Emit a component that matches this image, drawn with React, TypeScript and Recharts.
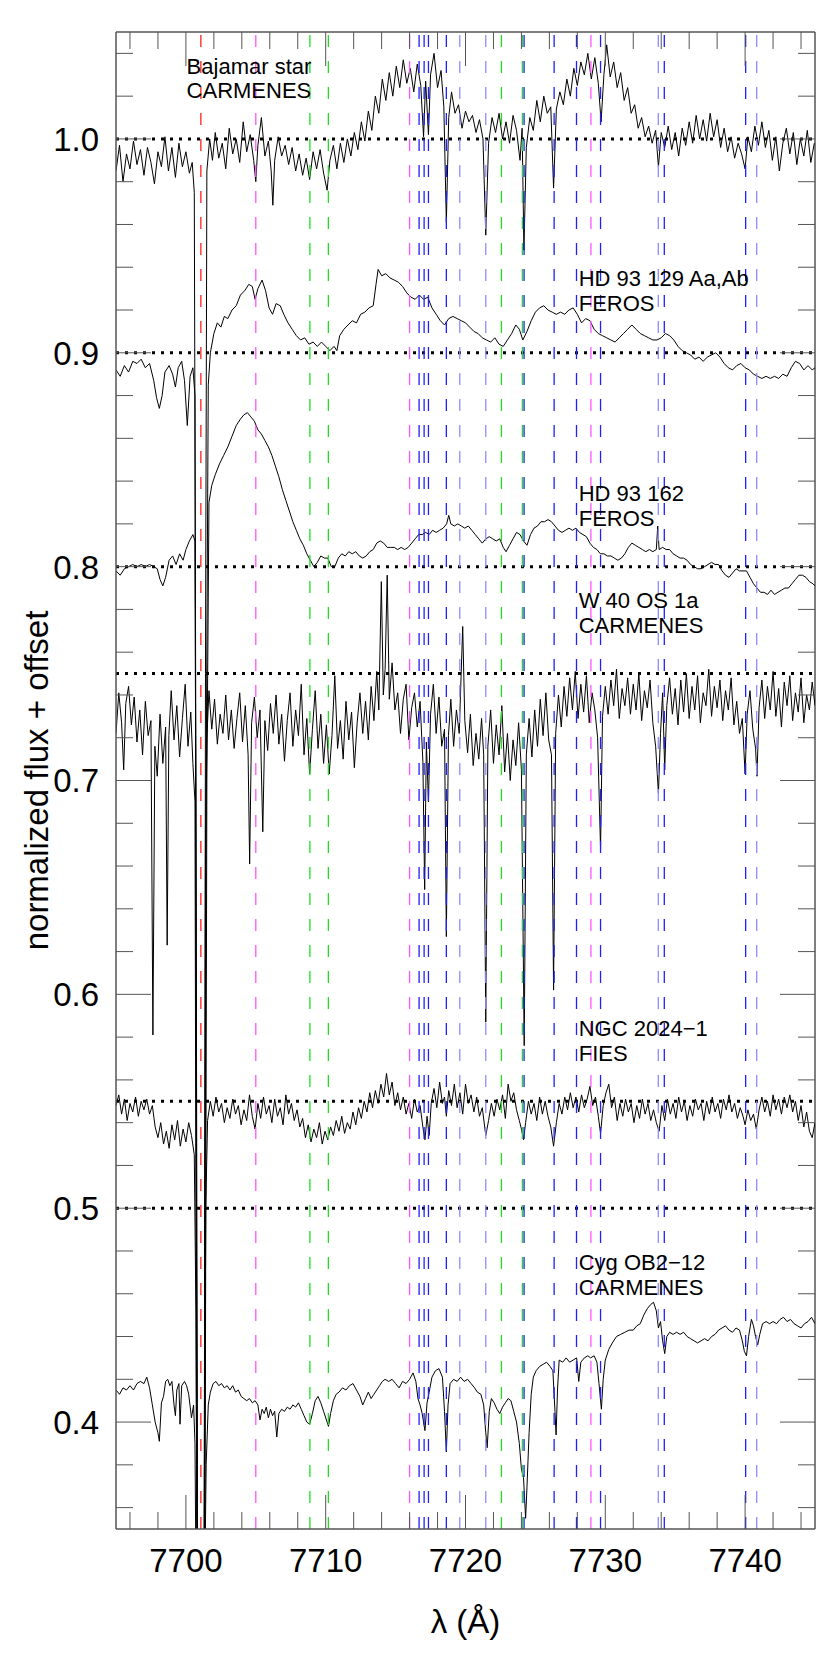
import { LineChart, Line, XAxis, YAxis, ReferenceLine, ReferenceDot } from "recharts";

// wavelength (Å), normalized flux + offset
const bajamar: [number, number][] = [
  [7695.0, 0.985], [7695.25, 0.997], [7695.5, 0.98], [7695.75, 0.993], [7696.0, 0.986], [7696.25, 0.999],
  [7696.5, 0.988], [7696.75, 0.995], [7697.0, 0.983], [7697.25, 0.996], [7697.5, 0.989], [7697.75, 0.979],
  [7698.0, 0.994], [7698.25, 0.987], [7698.5, 1.001], [7698.75, 0.985], [7699.0, 0.996], [7699.25, 0.982],
  [7699.5, 0.998], [7699.75, 0.987], [7700.0, 0.994], [7700.25, 0.984], [7700.45, 0.989], [7700.6, 0.975],
  [7700.72, 0.7], [7700.8, 0.3], [7701.3, 0.3], [7701.4, 0.75], [7701.5, 0.985], [7701.7, 1.0],
  [7701.9, 0.99], [7702.1, 1.003], [7702.35, 0.991], [7702.6, 0.998], [7702.85, 0.986], [7703.1, 1.005],
  [7703.35, 0.993], [7703.6, 1.0], [7703.85, 0.989], [7704.1, 1.008], [7704.35, 0.994], [7704.6, 1.002],
  [7704.85, 0.99], [7705.0, 0.98], [7705.15, 0.997], [7705.4, 1.01], [7705.65, 0.992], [7705.9, 0.999],
  [7706.1, 0.985], [7706.22, 0.969], [7706.35, 0.99], [7706.6, 1.001], [7706.85, 0.992], [7707.1, 0.997],
  [7707.35, 0.988], [7707.6, 0.996], [7707.85, 0.985], [7708.1, 0.993], [7708.35, 0.983], [7708.6, 0.991],
  [7708.85, 0.981], [7709.1, 0.994], [7709.35, 0.986], [7709.6, 0.995], [7709.85, 0.984], [7710.1, 0.976],
  [7710.3, 0.99], [7710.55, 0.997], [7710.8, 0.986], [7711.05, 0.998], [7711.3, 0.989], [7711.55, 1.0],
  [7711.8, 0.992], [7712.05, 1.003], [7712.3, 0.995], [7712.55, 1.008], [7712.8, 0.999], [7713.05, 1.013],
  [7713.3, 1.004], [7713.55, 1.02], [7713.8, 1.012], [7714.05, 1.028], [7714.3, 1.018], [7714.55, 1.031],
  [7714.8, 1.02], [7715.05, 1.034], [7715.3, 1.024], [7715.55, 1.037], [7715.8, 1.026], [7716.05, 1.033],
  [7716.3, 1.022], [7716.55, 1.035], [7716.8, 1.025], [7717.0, 1.001], [7717.15, 1.027], [7717.35, 1.002],
  [7717.5, 1.03], [7717.75, 1.04], [7718.0, 1.024], [7718.25, 1.032], [7718.45, 1.015], [7718.63, 0.961],
  [7718.8, 1.01], [7719.0, 1.022], [7719.25, 1.012], [7719.5, 1.016], [7719.75, 1.005], [7720.0, 1.013],
  [7720.25, 1.008], [7720.5, 1.011], [7720.75, 1.003], [7721.0, 1.009], [7721.25, 1.0], [7721.45, 0.955],
  [7721.65, 0.998], [7721.9, 1.01], [7722.15, 1.003], [7722.4, 1.012], [7722.65, 1.0], [7722.9, 1.008],
  [7723.15, 0.998], [7723.4, 1.011], [7723.65, 1.004], [7723.9, 0.99], [7724.05, 1.005], [7724.18, 0.948],
  [7724.35, 0.996], [7724.6, 1.01], [7724.85, 1.004], [7725.1, 1.018], [7725.35, 1.008], [7725.6, 1.02],
  [7725.85, 1.012], [7726.1, 1.015], [7726.3, 0.977], [7726.5, 1.014], [7726.75, 1.022], [7727.0, 1.016],
  [7727.25, 1.028], [7727.5, 1.02], [7727.75, 1.033], [7728.0, 1.025], [7728.25, 1.036], [7728.5, 1.03],
  [7728.75, 1.04], [7729.0, 1.028], [7729.25, 1.038], [7729.5, 1.026], [7729.7, 1.008], [7729.9, 1.03],
  [7730.1, 1.044], [7730.35, 1.029], [7730.6, 1.036], [7730.85, 1.024], [7731.1, 1.031], [7731.35, 1.018],
  [7731.6, 1.024], [7731.85, 1.012], [7732.1, 1.016], [7732.35, 1.005], [7732.6, 1.01], [7732.85, 1.001],
  [7733.1, 1.006], [7733.35, 0.998], [7733.6, 1.004], [7733.8, 0.987], [7734.0, 1.003], [7734.25, 0.996],
  [7734.5, 1.006], [7734.75, 0.995], [7735.0, 1.003], [7735.25, 0.992], [7735.5, 1.005], [7735.75, 0.997],
  [7736.0, 1.008], [7736.25, 0.998], [7736.5, 1.011], [7736.75, 1.0], [7737.0, 1.009], [7737.25, 0.999],
  [7737.5, 1.012], [7737.75, 1.001], [7738.0, 1.009], [7738.25, 0.996], [7738.5, 1.005], [7738.75, 0.994],
  [7739.0, 1.001], [7739.25, 0.991], [7739.5, 0.998], [7739.75, 0.993], [7740.0, 0.986], [7740.2, 1.001],
  [7740.45, 0.994], [7740.7, 1.006], [7740.95, 0.997], [7741.2, 1.008], [7741.45, 0.996], [7741.7, 1.004],
  [7741.95, 0.99], [7742.2, 1.001], [7742.45, 0.985], [7742.7, 0.998], [7742.95, 1.005], [7743.2, 0.993],
  [7743.45, 1.003], [7743.7, 0.988], [7743.95, 1.0], [7744.2, 0.992], [7744.45, 1.004], [7744.7, 0.989],
  [7744.95, 0.998],
];

const hd93129: [number, number][] = [
  [7695.0, 0.892], [7695.3, 0.889], [7695.6, 0.894], [7695.9, 0.891], [7696.2, 0.896], [7696.5, 0.895],
  [7696.8, 0.897], [7697.1, 0.893], [7697.4, 0.895], [7697.7, 0.887], [7697.9, 0.879], [7698.1, 0.874],
  [7698.3, 0.88], [7698.5, 0.891], [7698.8, 0.894], [7699.05, 0.89], [7699.25, 0.884], [7699.45, 0.893],
  [7699.7, 0.896], [7699.9, 0.887], [7700.1, 0.866], [7700.3, 0.889], [7700.5, 0.893], [7700.65, 0.88],
  [7700.75, 0.5], [7700.85, 0.3], [7701.3, 0.3], [7701.45, 0.7], [7701.6, 0.885], [7701.75, 0.9],
  [7702.0, 0.909], [7702.25, 0.914], [7702.5, 0.912], [7702.75, 0.917], [7703.0, 0.916], [7703.3, 0.92],
  [7703.6, 0.922], [7703.9, 0.927], [7704.2, 0.929], [7704.5, 0.932], [7704.75, 0.931], [7704.95, 0.925],
  [7705.15, 0.93], [7705.45, 0.934], [7705.7, 0.929], [7705.95, 0.921], [7706.2, 0.918], [7706.45, 0.923],
  [7706.75, 0.922], [7707.0, 0.918], [7707.3, 0.914], [7707.6, 0.911], [7707.9, 0.908], [7708.2, 0.906],
  [7708.5, 0.907], [7708.8, 0.904], [7709.1, 0.905], [7709.4, 0.903], [7709.7, 0.905], [7710.0, 0.903],
  [7710.3, 0.901], [7710.6, 0.903], [7710.8, 0.901], [7711.0, 0.908], [7711.3, 0.911], [7711.6, 0.913],
  [7711.9, 0.915], [7712.2, 0.914], [7712.5, 0.918], [7712.8, 0.919], [7713.1, 0.921], [7713.4, 0.922],
  [7713.6, 0.932], [7713.75, 0.939], [7714.0, 0.936], [7714.3, 0.937], [7714.6, 0.935], [7714.9, 0.934],
  [7715.2, 0.933], [7715.5, 0.931], [7715.8, 0.928], [7716.1, 0.926], [7716.4, 0.925], [7716.7, 0.927],
  [7717.0, 0.925], [7717.3, 0.926], [7717.6, 0.921], [7717.9, 0.918], [7718.2, 0.915], [7718.5, 0.913],
  [7718.8, 0.916], [7719.1, 0.917], [7719.4, 0.916], [7719.7, 0.915], [7720.0, 0.914], [7720.3, 0.912],
  [7720.6, 0.91], [7720.9, 0.909], [7721.2, 0.907], [7721.5, 0.906], [7721.8, 0.905], [7722.1, 0.907],
  [7722.4, 0.904], [7722.7, 0.903], [7723.0, 0.906], [7723.3, 0.909], [7723.6, 0.913], [7723.85, 0.911],
  [7724.1, 0.906], [7724.4, 0.91], [7724.7, 0.915], [7725.0, 0.919], [7725.3, 0.921], [7725.6, 0.922],
  [7725.9, 0.92], [7726.2, 0.919], [7726.5, 0.918], [7726.8, 0.919], [7727.1, 0.918], [7727.4, 0.92],
  [7727.7, 0.921], [7728.0, 0.918], [7728.3, 0.914], [7728.6, 0.916], [7728.9, 0.915], [7729.2, 0.911],
  [7729.5, 0.909], [7729.8, 0.908], [7730.1, 0.907], [7730.4, 0.906], [7730.7, 0.905], [7731.0, 0.907],
  [7731.3, 0.909], [7731.6, 0.911], [7731.9, 0.913], [7732.2, 0.911], [7732.5, 0.909], [7732.8, 0.908],
  [7733.1, 0.907], [7733.4, 0.906], [7733.7, 0.906], [7734.0, 0.907], [7734.3, 0.909], [7734.6, 0.908],
  [7734.9, 0.906], [7735.2, 0.903], [7735.5, 0.901], [7735.8, 0.9], [7736.1, 0.899], [7736.4, 0.897],
  [7736.7, 0.898], [7737.0, 0.896], [7737.3, 0.898], [7737.6, 0.899], [7737.9, 0.9], [7738.2, 0.898],
  [7738.5, 0.895], [7738.8, 0.893], [7739.1, 0.892], [7739.4, 0.894], [7739.7, 0.895], [7740.0, 0.893],
  [7740.3, 0.892], [7740.6, 0.89], [7740.9, 0.889], [7741.2, 0.888], [7741.5, 0.889], [7741.8, 0.888],
  [7742.1, 0.889], [7742.4, 0.888], [7742.7, 0.89], [7743.0, 0.889], [7743.3, 0.893], [7743.6, 0.896],
  [7743.9, 0.895], [7744.2, 0.892], [7744.5, 0.894], [7744.8, 0.892], [7745.0, 0.893],
];

const hd93162: [number, number][] = [
  [7695.0, 0.798], [7695.3, 0.796], [7695.6, 0.799], [7695.9, 0.8], [7696.2, 0.801], [7696.5, 0.8],
  [7696.8, 0.801], [7697.1, 0.8], [7697.4, 0.801], [7697.7, 0.8], [7697.95, 0.799], [7698.15, 0.794],
  [7698.35, 0.791], [7698.55, 0.795], [7698.8, 0.803], [7699.05, 0.805], [7699.3, 0.801], [7699.55, 0.806],
  [7699.8, 0.803], [7700.0, 0.808], [7700.25, 0.812], [7700.5, 0.815], [7700.65, 0.812], [7700.75, 0.6],
  [7700.85, 0.3], [7701.35, 0.3], [7701.5, 0.7], [7701.65, 0.83], [7701.85, 0.838], [7702.1, 0.843],
  [7702.4, 0.848], [7702.7, 0.852], [7703.0, 0.856], [7703.3, 0.861], [7703.6, 0.866], [7703.9, 0.869],
  [7704.15, 0.871], [7704.4, 0.872], [7704.65, 0.87], [7704.9, 0.868], [7705.15, 0.864], [7705.4, 0.862],
  [7705.65, 0.859], [7705.9, 0.856], [7706.15, 0.852], [7706.4, 0.847], [7706.65, 0.842], [7706.9, 0.836],
  [7707.15, 0.831], [7707.4, 0.826], [7707.65, 0.821], [7707.9, 0.817], [7708.15, 0.813], [7708.4, 0.81],
  [7708.65, 0.806], [7708.9, 0.803], [7709.15, 0.8], [7709.4, 0.802], [7709.65, 0.805], [7709.9, 0.804],
  [7710.15, 0.804], [7710.4, 0.8], [7710.65, 0.8], [7710.9, 0.804], [7711.15, 0.806], [7711.4, 0.805],
  [7711.65, 0.807], [7711.9, 0.806], [7712.15, 0.807], [7712.4, 0.805], [7712.65, 0.804], [7712.9, 0.805],
  [7713.15, 0.807], [7713.4, 0.808], [7713.65, 0.811], [7713.9, 0.812], [7714.15, 0.811], [7714.4, 0.809],
  [7714.65, 0.809], [7714.9, 0.809], [7715.15, 0.808], [7715.4, 0.809], [7715.65, 0.808], [7715.9, 0.809],
  [7716.15, 0.811], [7716.4, 0.813], [7716.65, 0.815], [7716.9, 0.815], [7717.15, 0.816], [7717.4, 0.815],
  [7717.65, 0.817], [7717.9, 0.816], [7718.15, 0.817], [7718.4, 0.818], [7718.65, 0.82], [7718.8, 0.824],
  [7718.95, 0.82], [7719.2, 0.819], [7719.45, 0.82], [7719.7, 0.819], [7719.95, 0.818], [7720.2, 0.819],
  [7720.45, 0.817], [7720.7, 0.815], [7720.95, 0.813], [7721.2, 0.811], [7721.45, 0.813], [7721.7, 0.814],
  [7721.95, 0.813], [7722.2, 0.812], [7722.45, 0.813], [7722.7, 0.809], [7722.9, 0.807], [7723.15, 0.81],
  [7723.4, 0.813], [7723.65, 0.816], [7723.9, 0.815], [7724.15, 0.812], [7724.4, 0.81], [7724.65, 0.815],
  [7724.9, 0.818], [7725.15, 0.819], [7725.4, 0.821], [7725.65, 0.821], [7725.9, 0.822], [7726.15, 0.821],
  [7726.4, 0.819], [7726.65, 0.817], [7726.9, 0.816], [7727.15, 0.817], [7727.4, 0.818], [7727.65, 0.817],
  [7727.9, 0.818], [7728.15, 0.816], [7728.4, 0.815], [7728.65, 0.814], [7728.9, 0.811], [7729.15, 0.809],
  [7729.4, 0.808], [7729.65, 0.806], [7729.9, 0.806], [7730.15, 0.805], [7730.4, 0.805], [7730.65, 0.804],
  [7730.9, 0.803], [7731.15, 0.804], [7731.4, 0.806], [7731.65, 0.809], [7731.9, 0.811], [7732.15, 0.81],
  [7732.4, 0.809], [7732.65, 0.808], [7732.9, 0.807], [7733.15, 0.808], [7733.4, 0.807], [7733.65, 0.808],
  [7733.75, 0.819], [7733.85, 0.808], [7734.1, 0.809], [7734.35, 0.808], [7734.6, 0.808], [7734.85, 0.806],
  [7735.1, 0.805], [7735.35, 0.804], [7735.6, 0.804], [7735.85, 0.803], [7736.1, 0.801], [7736.35, 0.8],
  [7736.6, 0.799], [7736.85, 0.799], [7737.1, 0.8], [7737.35, 0.801], [7737.6, 0.802], [7737.85, 0.801],
  [7738.1, 0.801], [7738.35, 0.798], [7738.6, 0.796], [7738.85, 0.795], [7739.1, 0.797], [7739.35, 0.799],
  [7739.6, 0.798], [7739.85, 0.798], [7740.1, 0.798], [7740.35, 0.795], [7740.6, 0.792], [7740.85, 0.79],
  [7741.1, 0.788], [7741.35, 0.788], [7741.6, 0.787], [7741.85, 0.789], [7742.1, 0.787], [7742.35, 0.788],
  [7742.6, 0.789], [7742.85, 0.79], [7743.1, 0.79], [7743.35, 0.792], [7743.6, 0.794], [7743.85, 0.796],
  [7744.1, 0.796], [7744.35, 0.795], [7744.6, 0.793], [7744.85, 0.792], [7745.0, 0.791],
];

const w40: [number, number][] = [
  [7695.0, 0.722], [7695.2, 0.741], [7695.4, 0.727], [7695.55, 0.705], [7695.7, 0.736], [7695.9, 0.744],
  [7696.1, 0.726], [7696.3, 0.739], [7696.5, 0.718], [7696.7, 0.733], [7696.9, 0.712], [7697.1, 0.737],
  [7697.3, 0.721], [7697.5, 0.728], [7697.64, 0.581], [7697.78, 0.716], [7697.95, 0.702], [7698.15, 0.731],
  [7698.35, 0.708], [7698.55, 0.725], [7698.66, 0.623], [7698.78, 0.721], [7698.95, 0.742], [7699.15, 0.719],
  [7699.35, 0.735], [7699.55, 0.711], [7699.75, 0.729], [7699.95, 0.745], [7700.15, 0.716], [7700.35, 0.732],
  [7700.5, 0.708], [7700.65, 0.69], [7700.75, 0.4], [7700.85, 0.3], [7701.3, 0.3], [7701.4, 0.669],
  [7701.5, 0.72], [7701.65, 0.742], [7701.85, 0.724], [7702.05, 0.738], [7702.25, 0.717], [7702.45, 0.731],
  [7702.65, 0.722], [7702.85, 0.74], [7703.05, 0.719], [7703.25, 0.733], [7703.45, 0.715], [7703.65, 0.729],
  [7703.85, 0.741], [7704.05, 0.718], [7704.25, 0.735], [7704.45, 0.712], [7704.56, 0.661], [7704.7, 0.727],
  [7704.9, 0.739], [7705.1, 0.72], [7705.3, 0.733], [7705.5, 0.676], [7705.65, 0.728], [7705.85, 0.714],
  [7706.05, 0.736], [7706.25, 0.722], [7706.45, 0.74], [7706.65, 0.717], [7706.85, 0.731], [7707.05, 0.709],
  [7707.25, 0.728], [7707.45, 0.741], [7707.65, 0.716], [7707.85, 0.733], [7708.05, 0.721], [7708.25, 0.745],
  [7708.45, 0.712], [7708.65, 0.729], [7708.85, 0.703], [7709.05, 0.724], [7709.25, 0.742], [7709.45, 0.715],
  [7709.65, 0.731], [7709.85, 0.708], [7710.05, 0.726], [7710.25, 0.703], [7710.45, 0.721], [7710.65, 0.749],
  [7710.85, 0.715], [7711.05, 0.728], [7711.25, 0.71], [7711.45, 0.737], [7711.65, 0.719], [7711.85, 0.732],
  [7712.05, 0.706], [7712.25, 0.727], [7712.45, 0.741], [7712.65, 0.722], [7712.85, 0.737], [7713.05, 0.719],
  [7713.25, 0.744], [7713.45, 0.728], [7713.65, 0.751], [7713.8, 0.733], [7713.98, 0.793], [7714.12, 0.74],
  [7714.25, 0.752], [7714.4, 0.796], [7714.55, 0.738], [7714.75, 0.755], [7714.95, 0.733], [7715.15, 0.741],
  [7715.35, 0.722], [7715.55, 0.738], [7715.75, 0.745], [7715.95, 0.719], [7716.15, 0.734], [7716.35, 0.741],
  [7716.55, 0.725], [7716.75, 0.737], [7716.95, 0.709], [7717.08, 0.649], [7717.2, 0.718], [7717.35, 0.69],
  [7717.5, 0.731], [7717.7, 0.745], [7717.9, 0.722], [7718.1, 0.739], [7718.3, 0.716], [7718.5, 0.724],
  [7718.63, 0.627], [7718.78, 0.721], [7718.95, 0.738], [7719.15, 0.716], [7719.35, 0.733], [7719.55, 0.722],
  [7719.8, 0.772], [7719.95, 0.728], [7720.15, 0.713], [7720.35, 0.731], [7720.55, 0.707], [7720.75, 0.722],
  [7720.95, 0.71], [7721.15, 0.729], [7721.3, 0.712], [7721.45, 0.587], [7721.6, 0.716], [7721.8, 0.733],
  [7722.0, 0.708], [7722.2, 0.726], [7722.4, 0.712], [7722.6, 0.735], [7722.8, 0.704], [7723.0, 0.722],
  [7723.2, 0.7], [7723.4, 0.719], [7723.6, 0.707], [7723.8, 0.727], [7724.0, 0.705], [7724.2, 0.576],
  [7724.35, 0.712], [7724.55, 0.729], [7724.75, 0.711], [7724.95, 0.733], [7725.15, 0.716], [7725.35, 0.738],
  [7725.55, 0.721], [7725.75, 0.741], [7725.95, 0.719], [7726.15, 0.712], [7726.3, 0.602], [7726.45, 0.722],
  [7726.65, 0.74], [7726.85, 0.725], [7727.05, 0.744], [7727.25, 0.73], [7727.45, 0.748], [7727.65, 0.733],
  [7727.85, 0.751], [7728.05, 0.729], [7728.25, 0.745], [7728.45, 0.732], [7728.65, 0.749], [7728.85, 0.727],
  [7729.05, 0.741], [7729.25, 0.733], [7729.45, 0.72], [7729.66, 0.668], [7729.8, 0.73], [7730.0, 0.744],
  [7730.2, 0.731], [7730.4, 0.747], [7730.6, 0.735], [7730.8, 0.752], [7731.0, 0.729], [7731.2, 0.743],
  [7731.4, 0.735], [7731.6, 0.748], [7731.8, 0.731], [7732.0, 0.745], [7732.2, 0.733], [7732.4, 0.75],
  [7732.6, 0.728], [7732.8, 0.742], [7733.0, 0.734], [7733.2, 0.747], [7733.4, 0.727], [7733.6, 0.716],
  [7733.8, 0.694], [7733.95, 0.722], [7734.1, 0.741], [7734.25, 0.705], [7734.4, 0.735], [7734.6, 0.748],
  [7734.8, 0.731], [7735.0, 0.743], [7735.2, 0.726], [7735.4, 0.747], [7735.6, 0.732], [7735.8, 0.75],
  [7736.0, 0.729], [7736.2, 0.744], [7736.4, 0.733], [7736.6, 0.749], [7736.8, 0.727], [7737.0, 0.741],
  [7737.2, 0.735], [7737.4, 0.752], [7737.6, 0.73], [7737.8, 0.744], [7738.0, 0.734], [7738.2, 0.747],
  [7738.4, 0.728], [7738.6, 0.742], [7738.8, 0.733], [7739.0, 0.748], [7739.2, 0.726], [7739.4, 0.737],
  [7739.6, 0.722], [7739.8, 0.729], [7740.0, 0.703], [7740.15, 0.731], [7740.35, 0.742], [7740.55, 0.724],
  [7740.75, 0.715], [7740.85, 0.702], [7741.0, 0.734], [7741.2, 0.747], [7741.4, 0.729], [7741.6, 0.744],
  [7741.8, 0.733], [7742.0, 0.751], [7742.2, 0.73], [7742.4, 0.743], [7742.6, 0.725], [7742.8, 0.746],
  [7743.0, 0.735], [7743.2, 0.749], [7743.4, 0.728], [7743.6, 0.741], [7743.8, 0.732], [7744.0, 0.748],
  [7744.2, 0.727], [7744.4, 0.74], [7744.6, 0.733], [7744.8, 0.746], [7745.0, 0.735],
];

const ngc2024: [number, number][] = [
  [7695.0, 0.548], [7695.2, 0.553], [7695.4, 0.544], [7695.6, 0.551], [7695.8, 0.541], [7696.0, 0.549],
  [7696.2, 0.545], [7696.4, 0.552], [7696.6, 0.543], [7696.8, 0.55], [7697.0, 0.546], [7697.2, 0.551],
  [7697.4, 0.544], [7697.6, 0.548], [7697.8, 0.538], [7698.0, 0.533], [7698.2, 0.54], [7698.4, 0.53],
  [7698.6, 0.536], [7698.8, 0.528], [7699.0, 0.539], [7699.2, 0.532], [7699.4, 0.541], [7699.6, 0.529],
  [7699.8, 0.537], [7700.0, 0.531], [7700.2, 0.54], [7700.4, 0.534], [7700.6, 0.525], [7700.72, 0.45],
  [7700.82, 0.3], [7701.3, 0.3], [7701.42, 0.5], [7701.55, 0.541], [7701.75, 0.55], [7701.95, 0.543],
  [7702.15, 0.552], [7702.35, 0.545], [7702.55, 0.549], [7702.75, 0.54], [7702.95, 0.547], [7703.15, 0.542],
  [7703.35, 0.551], [7703.55, 0.544], [7703.75, 0.548], [7703.95, 0.539], [7704.15, 0.546], [7704.35, 0.541],
  [7704.55, 0.553], [7704.75, 0.543], [7704.95, 0.537], [7705.15, 0.549], [7705.35, 0.542], [7705.55, 0.552],
  [7705.75, 0.544], [7705.95, 0.548], [7706.15, 0.54], [7706.35, 0.551], [7706.55, 0.543], [7706.75, 0.547],
  [7706.95, 0.539], [7707.15, 0.553], [7707.35, 0.544], [7707.55, 0.549], [7707.75, 0.541], [7707.95, 0.546],
  [7708.15, 0.538], [7708.35, 0.542], [7708.55, 0.533], [7708.75, 0.539], [7708.95, 0.531], [7709.15, 0.537],
  [7709.35, 0.533], [7709.55, 0.54], [7709.75, 0.53], [7709.95, 0.536], [7710.15, 0.532], [7710.35, 0.538],
  [7710.55, 0.534], [7710.75, 0.541], [7710.95, 0.536], [7711.15, 0.543], [7711.35, 0.535], [7711.55, 0.54],
  [7711.75, 0.537], [7711.95, 0.545], [7712.15, 0.539], [7712.35, 0.547], [7712.55, 0.542], [7712.75, 0.55],
  [7712.95, 0.545], [7713.15, 0.554], [7713.35, 0.547], [7713.55, 0.555], [7713.75, 0.549], [7713.95, 0.558],
  [7714.15, 0.552], [7714.35, 0.563], [7714.55, 0.553], [7714.75, 0.559], [7714.95, 0.548], [7715.15, 0.554],
  [7715.35, 0.546], [7715.55, 0.552], [7715.75, 0.544], [7715.95, 0.549], [7716.15, 0.542], [7716.35, 0.551],
  [7716.55, 0.545], [7716.75, 0.548], [7716.95, 0.538], [7717.1, 0.532], [7717.25, 0.543], [7717.4, 0.534],
  [7717.55, 0.549], [7717.75, 0.556], [7717.95, 0.547], [7718.15, 0.559], [7718.35, 0.549], [7718.5, 0.552],
  [7718.63, 0.543], [7718.8, 0.555], [7719.0, 0.548], [7719.2, 0.558], [7719.4, 0.547], [7719.6, 0.554],
  [7719.8, 0.544], [7720.0, 0.558], [7720.2, 0.549], [7720.4, 0.553], [7720.6, 0.545], [7720.8, 0.552],
  [7721.0, 0.543], [7721.2, 0.547], [7721.45, 0.534], [7721.65, 0.541], [7721.85, 0.549], [7722.05, 0.543],
  [7722.25, 0.551], [7722.45, 0.546], [7722.65, 0.553], [7722.85, 0.542], [7723.05, 0.558], [7723.25, 0.55],
  [7723.45, 0.554], [7723.65, 0.546], [7723.85, 0.541], [7724.0, 0.537], [7724.15, 0.532], [7724.3, 0.54],
  [7724.5, 0.55], [7724.7, 0.544], [7724.9, 0.549], [7725.1, 0.541], [7725.3, 0.552], [7725.5, 0.544],
  [7725.7, 0.55], [7725.9, 0.543], [7726.1, 0.538], [7726.3, 0.529], [7726.5, 0.54], [7726.7, 0.549],
  [7726.9, 0.544], [7727.1, 0.552], [7727.3, 0.546], [7727.5, 0.554], [7727.7, 0.547], [7727.9, 0.552],
  [7728.1, 0.545], [7728.3, 0.553], [7728.5, 0.547], [7728.7, 0.551], [7728.9, 0.557], [7729.1, 0.548],
  [7729.3, 0.552], [7729.5, 0.543], [7729.66, 0.535], [7729.85, 0.548], [7730.05, 0.554], [7730.25, 0.558],
  [7730.45, 0.547], [7730.65, 0.552], [7730.85, 0.541], [7731.05, 0.549], [7731.25, 0.543], [7731.45, 0.551],
  [7731.65, 0.545], [7731.85, 0.549], [7732.05, 0.54], [7732.25, 0.548], [7732.45, 0.542], [7732.65, 0.551],
  [7732.85, 0.544], [7733.05, 0.549], [7733.25, 0.541], [7733.45, 0.546], [7733.65, 0.54], [7733.85, 0.536],
  [7734.05, 0.548], [7734.25, 0.541], [7734.45, 0.551], [7734.65, 0.544], [7734.85, 0.549], [7735.05, 0.542],
  [7735.25, 0.552], [7735.45, 0.545], [7735.65, 0.55], [7735.85, 0.541], [7736.05, 0.548], [7736.25, 0.543],
  [7736.45, 0.551], [7736.65, 0.546], [7736.85, 0.549], [7737.05, 0.541], [7737.25, 0.55], [7737.45, 0.544],
  [7737.65, 0.552], [7737.85, 0.545], [7738.05, 0.549], [7738.25, 0.542], [7738.45, 0.551], [7738.65, 0.546],
  [7738.85, 0.553], [7739.05, 0.545], [7739.25, 0.549], [7739.45, 0.542], [7739.65, 0.547], [7739.85, 0.543],
  [7740.0, 0.539], [7740.2, 0.546], [7740.4, 0.541], [7740.6, 0.544], [7740.8, 0.537], [7741.0, 0.546],
  [7741.2, 0.552], [7741.4, 0.545], [7741.6, 0.55], [7741.8, 0.543], [7742.0, 0.553], [7742.2, 0.546],
  [7742.4, 0.551], [7742.6, 0.544], [7742.8, 0.552], [7743.0, 0.547], [7743.2, 0.553], [7743.4, 0.545],
  [7743.6, 0.55], [7743.8, 0.541], [7744.0, 0.548], [7744.2, 0.538], [7744.4, 0.545], [7744.6, 0.536],
  [7744.8, 0.533], [7745.0, 0.54],
];

const cygOb2: [number, number][] = [
  [7695.0, 0.415], [7695.25, 0.413], [7695.5, 0.416], [7695.75, 0.415], [7696.0, 0.417], [7696.25, 0.415],
  [7696.5, 0.418], [7696.75, 0.419], [7697.0, 0.418], [7697.2, 0.421], [7697.4, 0.416], [7697.6, 0.408],
  [7697.8, 0.4], [7698.0, 0.395], [7698.1, 0.391], [7698.25, 0.409], [7698.4, 0.412], [7698.55, 0.419],
  [7698.7, 0.42], [7698.85, 0.417], [7699.0, 0.419], [7699.15, 0.408], [7699.25, 0.403], [7699.35, 0.415],
  [7699.5, 0.418], [7699.58, 0.399], [7699.7, 0.417], [7699.9, 0.419], [7700.05, 0.417], [7700.2, 0.413],
  [7700.4, 0.402], [7700.55, 0.408], [7700.65, 0.39], [7700.75, 0.3], [7701.3, 0.3], [7701.45, 0.38],
  [7701.6, 0.408], [7701.75, 0.414], [7701.95, 0.418], [7702.15, 0.419], [7702.35, 0.417], [7702.55, 0.418],
  [7702.75, 0.416], [7702.95, 0.417], [7703.15, 0.415], [7703.35, 0.417], [7703.55, 0.414], [7703.75, 0.415],
  [7703.95, 0.412], [7704.15, 0.411], [7704.35, 0.41], [7704.55, 0.411], [7704.75, 0.409], [7704.95, 0.41],
  [7705.15, 0.408], [7705.3, 0.401], [7705.45, 0.406], [7705.6, 0.404], [7705.75, 0.407], [7705.9, 0.402],
  [7706.05, 0.406], [7706.2, 0.403], [7706.35, 0.405], [7706.5, 0.393], [7706.65, 0.404], [7706.85, 0.406],
  [7707.05, 0.405], [7707.25, 0.407], [7707.45, 0.406], [7707.65, 0.408], [7707.85, 0.407], [7708.05, 0.409],
  [7708.25, 0.406], [7708.45, 0.403], [7708.65, 0.4], [7708.85, 0.399], [7709.05, 0.404], [7709.25, 0.41],
  [7709.45, 0.412], [7709.65, 0.409], [7709.85, 0.405], [7710.05, 0.401], [7710.2, 0.398], [7710.35, 0.404],
  [7710.55, 0.41], [7710.75, 0.413], [7710.95, 0.414], [7711.2, 0.416], [7711.45, 0.415], [7711.7, 0.417],
  [7711.95, 0.418], [7712.2, 0.415], [7712.45, 0.412], [7712.65, 0.408], [7712.85, 0.411], [7713.05, 0.414],
  [7713.25, 0.411], [7713.45, 0.413], [7713.65, 0.415], [7713.85, 0.417], [7714.05, 0.419], [7714.25, 0.42],
  [7714.5, 0.419], [7714.75, 0.42], [7715.0, 0.418], [7715.25, 0.416], [7715.5, 0.419], [7715.75, 0.418],
  [7716.0, 0.42], [7716.25, 0.423], [7716.45, 0.419], [7716.6, 0.411], [7716.75, 0.408], [7716.9, 0.404],
  [7717.1, 0.396], [7717.25, 0.409], [7717.4, 0.414], [7717.6, 0.421], [7717.85, 0.424], [7718.1, 0.425],
  [7718.35, 0.421], [7718.5, 0.405], [7718.63, 0.386], [7718.75, 0.408], [7718.9, 0.418], [7719.15, 0.42],
  [7719.4, 0.419], [7719.65, 0.421], [7719.9, 0.419], [7720.15, 0.42], [7720.4, 0.418], [7720.65, 0.416],
  [7720.85, 0.414], [7721.1, 0.413], [7721.3, 0.408], [7721.45, 0.395], [7721.55, 0.388], [7721.7, 0.405],
  [7721.85, 0.411], [7722.05, 0.409], [7722.25, 0.406], [7722.45, 0.404], [7722.65, 0.407], [7722.85, 0.409],
  [7723.05, 0.411], [7723.25, 0.41], [7723.45, 0.405], [7723.65, 0.4], [7723.85, 0.39], [7724.0, 0.378],
  [7724.15, 0.374], [7724.3, 0.355], [7724.4, 0.37], [7724.55, 0.395], [7724.7, 0.413], [7724.85, 0.421],
  [7725.05, 0.424], [7725.3, 0.426], [7725.55, 0.427], [7725.8, 0.428], [7726.05, 0.426], [7726.25, 0.424],
  [7726.4, 0.405], [7726.48, 0.394], [7726.58, 0.415], [7726.7, 0.429], [7726.95, 0.428], [7727.2, 0.43],
  [7727.45, 0.428], [7727.7, 0.429], [7727.95, 0.43], [7728.1, 0.419], [7728.25, 0.428], [7728.5, 0.43],
  [7728.75, 0.431], [7728.95, 0.43], [7729.2, 0.431], [7729.4, 0.428], [7729.55, 0.418], [7729.72, 0.406],
  [7729.85, 0.42], [7730.0, 0.429], [7730.25, 0.434], [7730.5, 0.437], [7730.8, 0.44], [7731.1, 0.441],
  [7731.4, 0.442], [7731.7, 0.443], [7732.0, 0.443], [7732.25, 0.445], [7732.5, 0.446], [7732.75, 0.45],
  [7733.0, 0.453], [7733.25, 0.455], [7733.45, 0.456], [7733.65, 0.452], [7733.8, 0.444], [7733.95, 0.447],
  [7734.1, 0.438], [7734.25, 0.432], [7734.4, 0.44], [7734.6, 0.442], [7734.85, 0.441], [7735.1, 0.442],
  [7735.35, 0.441], [7735.6, 0.442], [7735.85, 0.44], [7736.1, 0.439], [7736.35, 0.438], [7736.6, 0.437],
  [7736.85, 0.438], [7737.1, 0.439], [7737.35, 0.438], [7737.6, 0.44], [7737.85, 0.441], [7738.1, 0.443],
  [7738.35, 0.444], [7738.6, 0.445], [7738.85, 0.443], [7739.1, 0.442], [7739.35, 0.444], [7739.6, 0.443],
  [7739.8, 0.438], [7739.95, 0.433], [7740.1, 0.431], [7740.25, 0.44], [7740.45, 0.448], [7740.6, 0.445],
  [7740.75, 0.44], [7740.9, 0.436], [7741.05, 0.441], [7741.25, 0.446], [7741.5, 0.447], [7741.75, 0.446],
  [7742.0, 0.447], [7742.25, 0.446], [7742.5, 0.448], [7742.75, 0.449], [7743.0, 0.447], [7743.25, 0.448],
  [7743.5, 0.446], [7743.75, 0.445], [7744.0, 0.444], [7744.25, 0.446], [7744.5, 0.447], [7744.75, 0.449],
  [7745.0, 0.446],
];

const spectra = [bajamar, hd93129, hd93162, w40, ngc2024, cygOb2];

// continuum levels (dotted)
const continuumLevels = [1.0, 0.9, 0.8, 0.75, 0.55, 0.5];

// line identifications (Å)
const redLines = [7701.07];
const magentaLines = [7705.0, 7716.0, 7728.97];
const greenLines = [7708.87, 7710.19, 7722.57, 7724.07];
const blueLines = [7716.68, 7717.04, 7717.35, 7718.63, 7724.19, 7726.34, 7727.94, 7729.66, 7734.22, 7740.04];
const paleBlueLines = [7719.59, 7721.45, 7733.79, 7740.83];

const starNames = ["Bajamar star", "HD 93 129 Aa,Ab", "HD 93 162", "W 40 OS 1a", "NGC 2024\u22121", "Cyg OB2\u221212"];
const instruments = ["CARMENES", "FEROS", "FEROS", "CARMENES", "FIES", "CARMENES"];

const xTicks = [7696, 7698, 7700, 7702, 7704, 7706, 7708, 7710, 7712, 7714, 7716, 7718, 7720, 7722, 7724, 7726, 7728, 7730, 7732, 7734, 7736, 7738, 7740, 7742, 7744];
const yTicks = [0.36, 0.38, 0.4, 0.42, 0.44, 0.46, 0.48, 0.5, 0.52, 0.54, 0.56, 0.58, 0.6, 0.62, 0.64, 0.66, 0.68, 0.7, 0.72, 0.74, 0.76, 0.78, 0.8, 0.82, 0.84, 0.86, 0.88, 0.9, 0.92, 0.94, 0.96, 0.98, 1.0, 1.02, 1.04];

const W = 830;
const H = 1663;
const TOP = 32;
const LEFT = 116;
const RIGHT = 15;
const BOTTOM = 134;
const FONT = "'Liberation Sans', Arial, Helvetica, sans-serif";
const AXIS = "#555";

// label anchors in data units (left edge, baseline of first line)
const labelPos: [number, number][] = [
  [7700.05, 1.0305], [7728.1, 0.931], [7728.1, 0.8305], [7728.1, 0.7805], [7728.1, 0.5805], [7728.1, 0.471],
];

const XTick = (props: any) => {
  const { x, y, payload } = props;
  const v = payload.value as number;
  const major = v % 10 === 0;
  const len = major ? 34 : 17;
  return (
    <g>
      <line x1={x} x2={x} y1={y} y2={y - len} stroke={AXIS} strokeWidth={1} />
      <line x1={x} x2={x} y1={TOP} y2={TOP + len} stroke={AXIS} strokeWidth={1} />
      {major && (
        <text x={x} y={y + 43} textAnchor="middle" fontSize={33} fontFamily={FONT} fill="#000">
          {v}
        </text>
      )}
    </g>
  );
};

const YTick = (props: any) => {
  const { x, y, payload } = props;
  const v = payload.value as number;
  const major = Math.round(v * 100) % 10 === 0;
  const len = major ? 35 : 17;
  const right = W - RIGHT;
  return (
    <g>
      <line x1={x} x2={x + len} y1={y} y2={y} stroke={AXIS} strokeWidth={1} />
      <line x1={right} x2={right - len} y1={y} y2={y} stroke={AXIS} strokeWidth={1} />
      {major && (
        <text x={x - 17} y={y} dy="0.36em" textAnchor="end" fontSize={33} fontFamily={FONT} fill="#000">
          {v.toFixed(1)}
        </text>
      )}
    </g>
  );
};

const StarLabel = (i: number) => (props: any) => {
  const { cx, cy } = props;
  return (
    <g>
      <text x={cx} y={cy} fontSize={22} fontFamily={FONT} fill="#000">
        {starNames[i]}
      </text>
      <text x={cx} y={cy + 24.5} fontSize={22} fontFamily={FONT} fill="#000">
        {instruments[i]}
      </text>
    </g>
  );
};

const dashed = (xs: number[], color: string, key: string) =>
  xs.map((v) => (
    <ReferenceLine key={key + v} x={v} stroke={color} strokeWidth={1.3} strokeDasharray="12 14" ifOverflow="visible" />
  ));

export default function App() {
  return (
    <div style={{ position: "absolute", left: 0, top: 0, width: W, height: H, background: "#fff" }}>
      <LineChart width={W} height={H} margin={{ top: TOP, right: RIGHT, bottom: 0, left: 0 }}>
        <XAxis
          type="number"
          dataKey="0"
          domain={[7695, 7745]}
          allowDataOverflow
          ticks={xTicks}
          interval={0}
          tickSize={0}
          tickMargin={0}
          tickLine={false}
          tick={XTick}
          height={BOTTOM}
          axisLine={{ stroke: AXIS, strokeWidth: 1.5 }}
          label={(p: any) => {
            const vb = p.viewBox || {};
            return (
              <text x={vb.x + vb.width / 2} y={vb.y + 104} textAnchor="middle" fontSize={33} fontFamily={FONT} fill="#000">
                {"\u03bb (\u00c5)"}
              </text>
            );
          }}
        />
        <YAxis
          type="number"
          dataKey="1"
          domain={[0.35, 1.05]}
          allowDataOverflow
          ticks={yTicks}
          interval={0}
          tickSize={0}
          tickMargin={0}
          tickLine={false}
          tick={YTick}
          width={LEFT}
          axisLine={{ stroke: AXIS, strokeWidth: 1.5 }}
          label={(p: any) => {
            const vb = p.viewBox || {};
            const cx = 36;
            const cy = vb.y + vb.height / 2;
            return (
              <text x={cx} y={cy} transform={`rotate(-90 ${cx} ${cy})`} textAnchor="middle" dominantBaseline="central" fontSize={33} fontFamily={FONT} fill="#000">
                normalized flux + offset
              </text>
            );
          }}
        />
        <ReferenceLine y={1.05} stroke={AXIS} strokeWidth={1.5} ifOverflow="visible" />
        <ReferenceLine x={7745} stroke={AXIS} strokeWidth={1.5} ifOverflow="visible" />
        {spectra.map((s, i) => (
          <Line
            key={i}
            data={s}
            dataKey="1"
            type="linear"
            stroke="#000"
            strokeWidth={1}
            dot={false}
            isAnimationActive={false}
          />
        ))}
        {continuumLevels.map((v) => (
          <ReferenceLine key={"c" + v} y={v} stroke="#000" strokeWidth={3} strokeDasharray="3 6" />
        ))}
        {dashed(redLines, "#ff2020", "r")}
        {dashed(magentaLines, "#ff55ff", "m")}
        {dashed(greenLines, "#22dd22", "g")}
        {dashed(blueLines, "#2020ff", "b")}
        {dashed(paleBlueLines, "#8c8cff", "pb")}
        {labelPos.map((p, i) => (
          <ReferenceDot key={"l" + i} x={p[0]} y={p[1]} r={0} ifOverflow="visible" shape={StarLabel(i)} />
        ))}
      </LineChart>
    </div>
  );
}
